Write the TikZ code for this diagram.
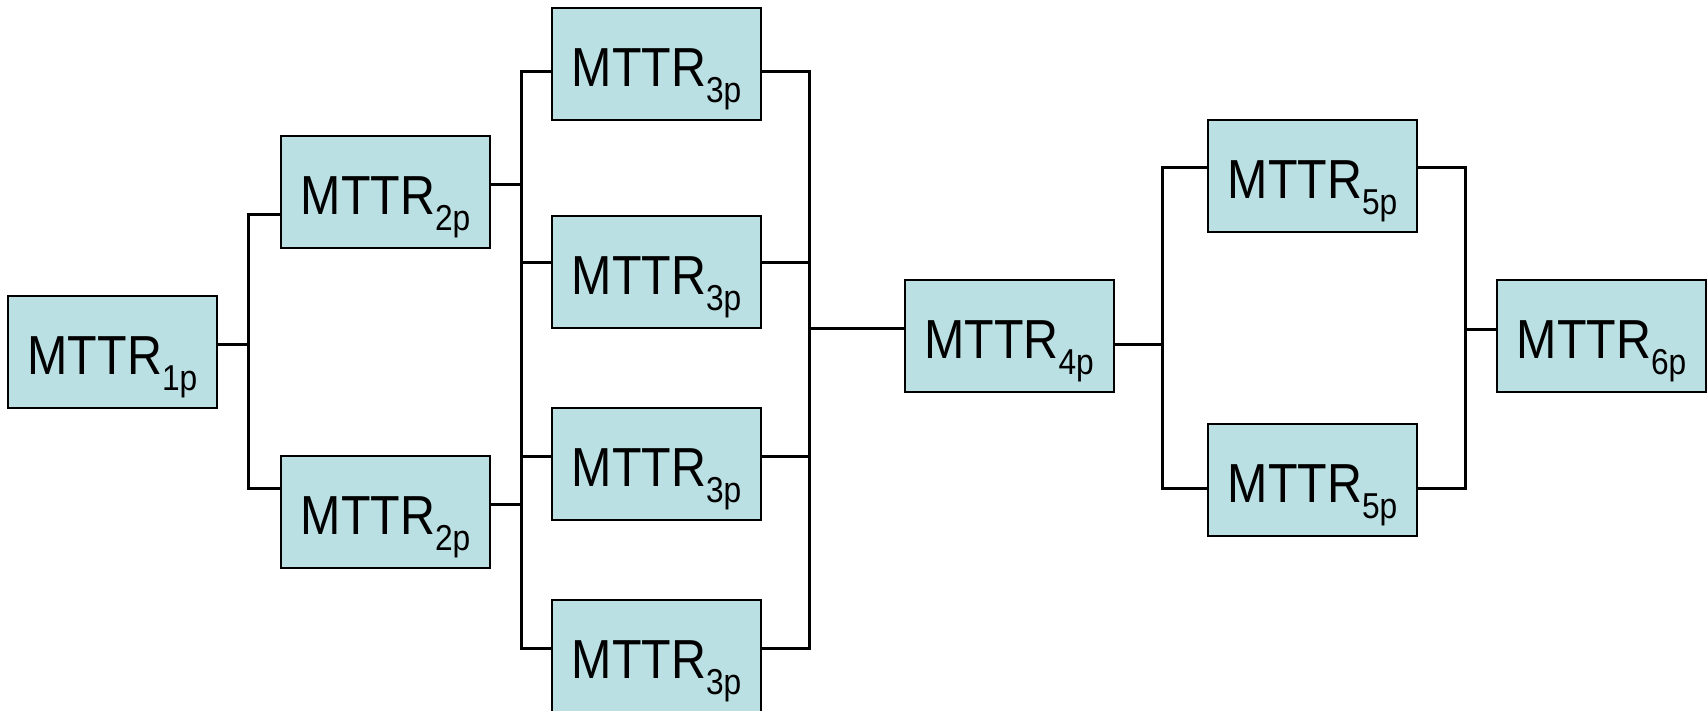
\documentclass[tikz,border=0pt]{standalone}
\usepackage{fontspec}
\setmainfont[FakeStretch=0.88]{Liberation Sans}
\definecolor{boxfill}{RGB}{187,224,227}
\newcommand{\mt}[1]{\fontsize{55}{60}\selectfont MTTR\raisebox{-16pt}{\fontsize{36}{40}\selectfont #1}}
\tikzset{
  mbox/.style={draw=black, line width=2pt, fill=boxfill, minimum width=209pt, minimum height=112pt, inner sep=0pt, text height=45pt, text depth=0pt, font=\fontsize{55}{60}\selectfont},
  conn/.style={draw=black, line width=3pt, line cap=rect}
}
\begin{document}
\begin{tikzpicture}[x=1pt,y=-1pt]
\useasboundingbox (0,0) rectangle (1707,711);
\node[mbox] (n1)  at (112.5,352) {\mt{1p}};
\node[mbox] (n2a) at (385.5,192) {\mt{2p}};
\node[mbox] (n2b) at (385.5,512) {\mt{2p}};
\node[mbox] (n3a) at (656.5,64)  {\mt{3p}};
\node[mbox] (n3b) at (656.5,272) {\mt{3p}};
\node[mbox] (n3c) at (656.5,464) {\mt{3p}};
\node[mbox] (n3d) at (656.5,656) {\mt{3p}};
\node[mbox] (n4)  at (1009,336)  {\mt{4p}};
\node[mbox] (n5a) at (1312.5,176) {\mt{5p}};
\node[mbox] (n5b) at (1312.5,480) {\mt{5p}};
\node[mbox] (n6)  at (1601.5,336) {\mt{6p}};
% bus 1
\coordinate (b1)  at (248,344);
\coordinate (b1t) at (248,215);
\coordinate (b1b) at (248,488);
\draw[conn] (n1.east |- b1) -- (b1);
\draw[conn] (b1t) -- (b1b);
\draw[conn] (b1t) -- (n2a.west |- b1t);
\draw[conn] (b1b) -- (n2b.west |- b1b);
% bus 3 left
\coordinate (l2a) at (521,185);
\coordinate (l2b) at (521,504);
\coordinate (la) at (521,72);
\coordinate (lb) at (521,263);
\coordinate (lc) at (521,456);
\coordinate (ld) at (521,648);
\draw[conn] (n2a.east |- l2a) -- (l2a);
\draw[conn] (n2b.east |- l2b) -- (l2b);
\draw[conn] (la) -- (ld);
\draw[conn] (la) -- (n3a.west |- la);
\draw[conn] (lb) -- (n3b.west |- lb);
\draw[conn] (lc) -- (n3c.west |- lc);
\draw[conn] (ld) -- (n3d.west |- ld);
% bus 3 right
\coordinate (ra) at (809,72);
\coordinate (rb) at (809,263);
\coordinate (rc) at (809,456);
\coordinate (rd) at (809,648);
\coordinate (r4) at (809,328);
\draw[conn] (ra) -- (rd);
\draw[conn] (n3a.east |- ra) -- (ra);
\draw[conn] (n3b.east |- rb) -- (rb);
\draw[conn] (n3c.east |- rc) -- (rc);
\draw[conn] (n3d.east |- rd) -- (rd);
\draw[conn] (r4) -- (n4.west |- r4);
% bus 5 left
\coordinate (p4) at (1162,344);
\coordinate (pa) at (1162,168);
\coordinate (pb) at (1162,488);
\draw[conn] (n4.east |- p4) -- (p4);
\draw[conn] (pa) -- (pb);
\draw[conn] (pa) -- (n5a.west |- pa);
\draw[conn] (pb) -- (n5b.west |- pb);
% bus 5 right
\coordinate (qa) at (1465,168);
\coordinate (qb) at (1465,488);
\coordinate (q6) at (1465,329);
\draw[conn] (qa) -- (qb);
\draw[conn] (n5a.east |- qa) -- (qa);
\draw[conn] (n5b.east |- qb) -- (qb);
\draw[conn] (q6) -- (n6.west |- q6);
\end{tikzpicture}
\end{document}
